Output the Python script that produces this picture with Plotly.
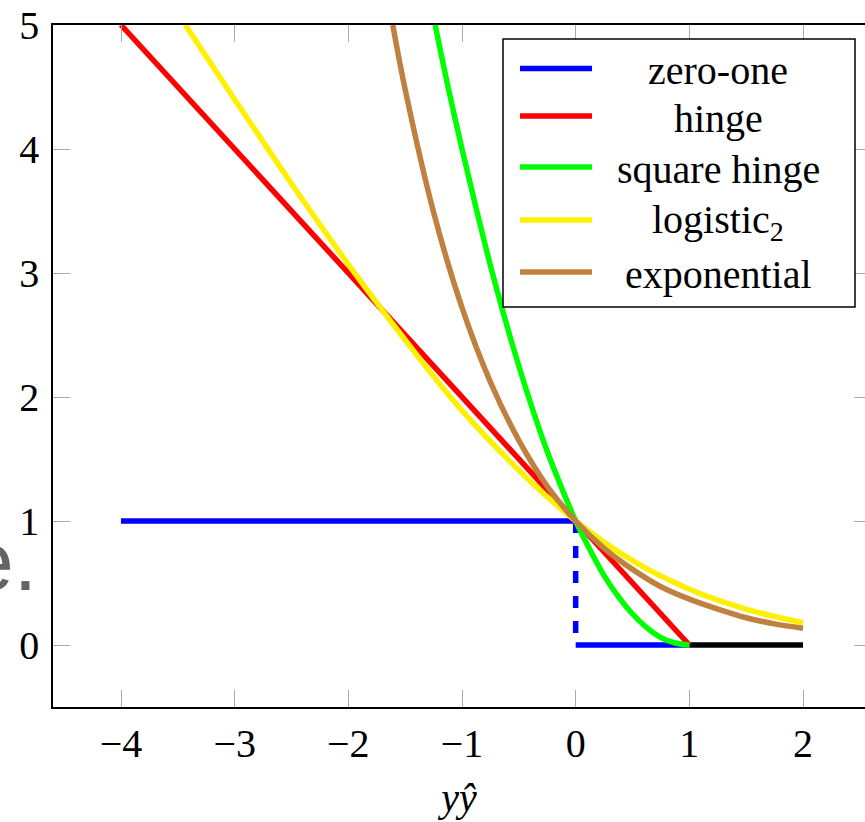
import plotly.graph_objects as go

# ---------------- data ----------------
series_names = ["zero-one", "hinge", "square hinge", "logistic<sub>2</sub>", "exponential"]
series_colors = ["#0000ff", "#ff0000", "#00ff00", "#ffef00", "#bf8040"]

zero_one_x = [-4, 0]
zero_one_y = [1, 1]
zero_one_step_x = [0, 0]
zero_one_step_y = [1, 0]
zero_one_low_x = [0, 1]
zero_one_low_y = [0, 0]
flat_x = [1, 2]
flat_y = [0, 0]

hinge_x = [-4, 1]
hinge_y = [5, 0]

sq_hinge_x = [-1.236, -1.125, -1.0, -0.875, -0.75, -0.625, -0.5, -0.375, -0.25, -0.125,
              0.0, 0.125, 0.25, 0.375, 0.5, 0.625, 0.75, 0.875, 1.0]
sq_hinge_y = [5.0, 4.51, 4.0, 3.52, 3.06, 2.64, 2.25, 1.89, 1.56, 1.27,
              1.0, 0.77, 0.56, 0.39, 0.25, 0.14, 0.06, 0.016, 0.0]

logistic_x = [-3.434, -3.0, -2.5, -2.0, -1.5, -1.0, -0.5, 0.0, 0.5, 1.0, 1.5, 2.0]
logistic_y = [5.0, 4.40, 3.72, 3.07, 2.46, 1.89, 1.41, 1.0, 0.68, 0.45, 0.29, 0.18]

exp_x = [-1.609, -1.5, -1.25, -1.0, -0.75, -0.5, -0.25, 0.0, 0.25, 0.5, 0.75,
         1.0, 1.25, 1.5, 1.75, 2.0]
exp_y = [5.0, 4.48, 3.49, 2.72, 2.12, 1.65, 1.28, 1.0, 0.78, 0.61, 0.47,
         0.37, 0.29, 0.22, 0.17, 0.135]

x_ticks = [-4, -3, -2, -1, 0, 1, 2]
x_ticktext = ["−4", "−3", "−2", "−1", "0", "1", "2"]
y_ticks = [0, 1, 2, 3, 4, 5]

# ---------------- figure ----------------
W, H = 865, 822
ML, MR, MT, MB = 53, 0, 25, 115
PW, PH = W - ML - MR, H - MT - MB
px_per_x = 113.67
x0 = -4 - 68 / px_per_x
x1 = x0 + PW / px_per_x

FONT = "'Liberation Serif', 'DejaVu Serif', serif"
LW = 5.5

def px2paper(px, py):
    return (px - ML) / PW, (H - MB - py) / PH

fig = go.Figure()

def add_line(x, y, color, dash="solid", shape="linear"):
    fig.add_trace(go.Scatter(x=x, y=y, mode="lines", showlegend=False, hoverinfo="skip",
                             line=dict(color=color, width=LW, dash=dash, shape=shape)))

add_line(zero_one_x, zero_one_y, series_colors[0])
add_line(zero_one_step_x, zero_one_step_y, series_colors[0], dash="12px,13px")
add_line(zero_one_low_x, zero_one_low_y, series_colors[0])
add_line(flat_x, flat_y, "#000000")
add_line(hinge_x, hinge_y, series_colors[1])
add_line(sq_hinge_x, sq_hinge_y, series_colors[2], shape="spline")
add_line(logistic_x, logistic_y, series_colors[3], shape="spline")
add_line(exp_x, exp_y, series_colors[4], shape="spline")

# invisible trace so the right-hand tick axis is drawn
fig.add_trace(go.Scatter(x=[None], y=[None], yaxis="y2", mode="lines",
                         showlegend=False, hoverinfo="skip"))

# ---------------- manual legend (pgfplots style) ----------------
bx0, by0 = px2paper(503, 39)
bx1, by1 = px2paper(855, 307)
fig.add_shape(type="rect", xref="paper", yref="paper", x0=bx0, x1=bx1, y0=by1, y1=by0,
              line=dict(color="black", width=1.5), fillcolor="white", layer="above")
row_px = [68.5, 116, 167, 220, 272]
for name, color, ry in zip(series_names, series_colors, row_px):
    lx0, ly = px2paper(520, ry)
    lx1, _ = px2paper(592, ry)
    fig.add_shape(type="line", xref="paper", yref="paper", x0=lx0, x1=lx1, y0=ly, y1=ly,
                  line=dict(color=color, width=LW), layer="above")
    tx, ty = px2paper(718, ry + 2)
    fig.add_annotation(xref="paper", yref="paper", x=tx, y=ty, text=name, showarrow=False,
                       xanchor="center", yanchor="middle",
                       font=dict(family=FONT, size=40, color="black"))

# stray grey text at the left edge of the reference
ex, ey = px2paper(39, 561)
fig.add_annotation(xref="paper", yref="paper", x=ex, y=ey, text="e.", showarrow=False,
                   xanchor="right", yanchor="middle",
                   font=dict(family="'Liberation Sans', Arial, sans-serif", size=84,
                             color="#646464"))

axis_common = dict(showgrid=False, zeroline=False, ticks="inside", ticklen=17,
                   tickwidth=1, tickcolor="#aaaaaa")

fig.update_layout(
    width=W, height=H,
    margin=dict(l=ML, r=MR, t=MT, b=MB),
    paper_bgcolor="white", plot_bgcolor="white",
    showlegend=False,
    font=dict(family=FONT, size=40, color="black"),
    xaxis=dict(range=[x0, x1], tickvals=x_ticks, ticktext=x_ticktext,
               showline=True, linecolor="black", linewidth=1.5, mirror="ticks",
               title=dict(text="<i>yŷ</i>", font=dict(family=FONT, size=40), standoff=18),
               **axis_common),
    yaxis=dict(range=[-0.5, 5], tickvals=y_ticks,
               showline=True, linecolor="black", linewidth=1.5, mirror=False,
               ticklabelstandoff=4,
               **axis_common),
    yaxis2=dict(range=[-0.5, 5], tickvals=y_ticks, overlaying="y", side="right",
                anchor="x", showticklabels=False, showline=False, showgrid=False,
                zeroline=False, ticks="inside", ticklen=11, tickwidth=1,
                tickcolor="#aaaaaa"),
)

fig.write_html("out.html")
